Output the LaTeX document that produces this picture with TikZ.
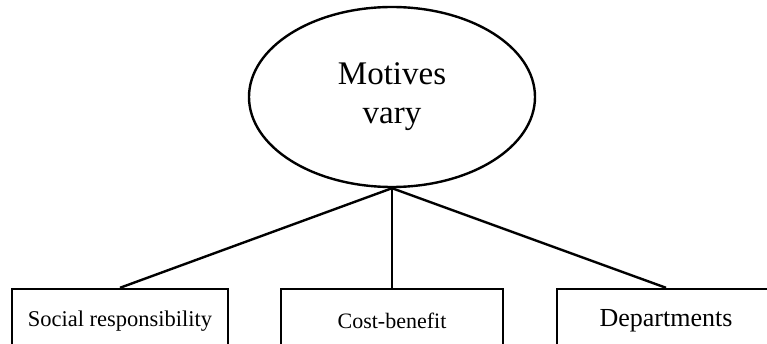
\documentclass[tikz,border=0pt]{standalone}
\usepackage{fontspec}
\setmainfont{Liberation Serif}
\usetikzlibrary{shapes.geometric}
\begin{document}
\begin{tikzpicture}[x=1pt,y=-1pt,
  line width=2.4pt,
  topic/.style={ellipse, draw, minimum width=286pt, minimum height=180pt,
    inner sep=0pt, align=center, font=\fontsize{33}{39}\selectfont},
  leaf/.style={rectangle, draw, minimum height=64pt, inner sep=0pt},
  link/.style={draw, line width=2.4pt}]
  \clip (0,0) rectangle (767,344);
  \fill[white] (0,0) rectangle (767,344);

  % central ellipse
  \node[topic] (m) at (392,97) {Motives\\vary};

  % three boxes along the bottom edge
  \node[leaf, minimum width=216pt, font=\fontsize{22.5}{27}\selectfont] (s) at (120,321) {Social responsibility};
  \node[leaf, minimum width=222pt, font=\fontsize{22}{27}\selectfont] (c) at (392,321) {Cost-benefit};
  \node[leaf, minimum width=218pt, font=\fontsize{26}{31}\selectfont] (d) at (666,321) {Departments};

  % connectors
  \path[link] (m.south) -- (s.north);
  \path[link] (m.south) -- (c.north);
  \path[link] (m.south) -- (d.north);
\end{tikzpicture}
\end{document}
